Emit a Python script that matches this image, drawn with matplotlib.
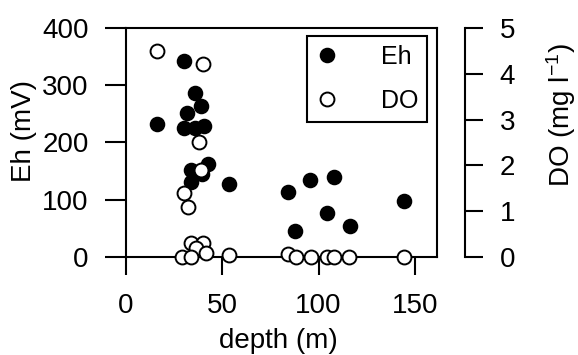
import matplotlib
matplotlib.use("Agg")
import matplotlib.pyplot as plt
from matplotlib.lines import Line2D

plt.rcParams['font.family'] = ['Liberation Sans', 'DejaVu Sans']
plt.rcParams['mathtext.fontset'] = 'custom'
plt.rcParams['mathtext.rm'] = 'Liberation Sans'
plt.rcParams['mathtext.it'] = 'Liberation Sans'

# Eh data (filled circles)
eh_depth = [30.1, 35.6, 39.0, 31.8, 16.0, 30.0, 35.6, 40.7, 42.4, 33.9, 39.5, 33.9,
            53.3, 84.2, 95.7, 108.2, 104.3, 116.5, 88.0, 144.3]
eh_mv = [342, 286, 264, 251, 232, 226, 226, 229, 162, 152, 145, 131,
         128, 113, 134, 140, 77, 55, 46, 97]

# DO data (open circles)
do_depth = [16.3, 39.9, 37.8, 38.7, 30.1, 32.1, 33.9, 40.0, 36.6, 29.2, 33.9, 41.8,
            53.3, 84.2, 88.5, 95.9, 104.3, 108.2, 116.0, 144.3]
do_mg = [4.50, 4.21, 2.50, 1.90, 1.40, 1.10, 0.31, 0.31, 0.19, 0.0, 0.0, 0.09,
         0.04, 0.07, 0.0, 0.0, 0.0, 0.0, 0.0, 0.0]

x_ticks = [0, 50, 100, 150]
eh_ticks = [0, 100, 200, 300, 400]
do_ticks = [0, 1, 2, 3, 4, 5]

W, H = 578, 355
fig = plt.figure(figsize=(W / 100, H / 100), dpi=100)
ax = fig.add_axes([126 / W, (H - 257) / H, (437 - 126) / W, (257 - 28) / H])

ax.set_xlim(0.5, 161.5)
ax.set_ylim(0, 400)
lw = 1.5
for s in ax.spines.values():
    s.set_linewidth(lw)

ax.scatter(eh_depth, eh_mv, s=100, c='black', edgecolors='black', linewidths=1.2,
           clip_on=False, zorder=3)

ax.set_xticks(x_ticks)
ax.set_yticks(eh_ticks)
ax.tick_params(axis='x', direction='out', length=13, width=lw, labelsize=20, pad=13)
ax.tick_params(axis='y', direction='out', length=15, width=lw, labelsize=20, pad=12)
ax.set_xlabel('depth (m)', fontsize=20)
ax.xaxis.set_label_coords(0.49, -0.31)
ax.set_ylabel('Eh (mV)', fontsize=20)
ax.yaxis.set_label_coords(-0.285, 0.55)

ax2 = ax.twinx()
ax2.set_ylim(0, 5)
for k in ['top', 'bottom', 'left']:
    ax2.spines[k].set_visible(False)
ax2.spines['right'].set_position(('outward', 20))
ax2.spines['right'].set_linewidth(lw)
ax2.set_yticks(do_ticks)
ax2.tick_params(axis='y', direction='out', length=13, width=lw, labelsize=20, pad=12)
ax2.set_ylabel(r'DO (mg l$^{-1}$)', fontsize=20)
ax2.yaxis.set_label_coords(1.345, 0.62)

ax2.scatter(do_depth, do_mg, s=100, c='white', edgecolors='black', linewidths=1.4,
            clip_on=False, zorder=4)

handles = [Line2D([], [], ls='none', marker='o', ms=10, mfc='black', mec='black', mew=1.2),
           Line2D([], [], ls='none', marker='o', ms=10, mfc='white', mec='black', mew=1.4)]
leg = ax2.legend(handles, ['Eh', 'DO'], loc='upper right', bbox_to_anchor=(0.968, 0.965),
                 borderaxespad=0, fontsize=18, frameon=True, fancybox=False,
                 edgecolor='black', framealpha=1, handletextpad=1.7, labelspacing=0.8,
                 borderpad=0.35, handlelength=0.9)
leg.get_frame().set_linewidth(lw)

fig.savefig('out.png', dpi=100)
